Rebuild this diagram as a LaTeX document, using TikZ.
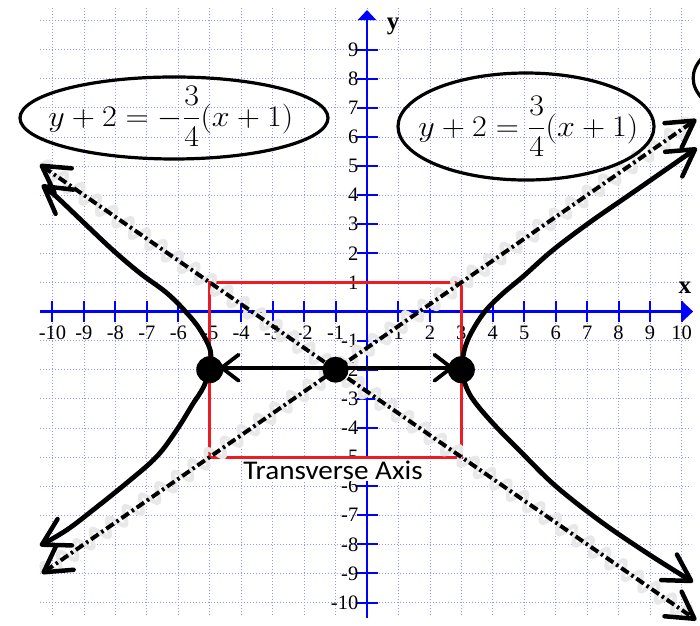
\documentclass[tikz,border=0pt]{standalone}
\usepackage{graphicx}
\usepackage{fontspec}
\newfontfamily\tms{Liberation Serif}
\newfontfamily\carl[FakeStretch=1.08]{Carlito}
\usetikzlibrary{arrows.meta,decorations.pathmorphing}
\definecolor{gridblue}{RGB}{150,150,250}
\definecolor{axblue}{RGB}{0,0,255}
\definecolor{boxred}{RGB}{237,28,36}
\definecolor{halocol}{RGB}{232,232,232}
\newcommand{\eqsize}[1]{\scalebox{1.29}[1.2]{\fontsize{24.88}{26}\selectfont$\displaystyle #1$}}
\tikzset{
  hand/.tip={Straight Barb[length=26pt,width=30pt,line width=4.5pt,round]},
  smallhand/.tip={Straight Barb[length=17pt,width=26pt,line width=3.8pt,round]},
  gridline/.style={draw=gridblue, dash pattern=on 1pt off 2pt, line width=0.8pt},
  axisline/.style={draw=axblue, line width=2.6pt},
  tickmark/.style={draw=axblue, line width=2pt},
  ticklab/.style={font=\tms\fontsize{20.5}{20.5}\selectfont, inner sep=0pt},
  axlab/.style={font=\tms\bfseries\fontsize{25}{25}\selectfont, inner sep=0pt},
  redbox/.style={draw=boxred, line width=3pt},
  halo/.style={draw=halocol, line width=4.5pt, line join=round, decorate, decoration={snake, amplitude=8pt, segment length=20pt}},
  asym/.style={line width=4pt, dash pattern=on 9pt off 3.5pt on 2.5pt off 3.5pt, hand-hand},
  hyp/.style={line width=4.8pt, line cap=round, line join=round, -hand},
  trans/.style={line width=3.8pt, smallhand-smallhand},
  dotfill/.style={fill=black},
  translab/.style={font=\carl\fontsize{27}{27}\selectfont, fill=white, inner sep=1.5pt, anchor=base},
  ring/.style={draw=black, line width=3.2pt},
  eqtext/.style={inner sep=0pt, anchor=base}
}
\begin{document}
\begin{tikzpicture}[x=31.45pt,y=29.1pt]
\useasboundingbox (-367pt,-313.5pt) rectangle (333pt,311.5pt);
\clip (-367pt,-313.5pt) rectangle (333pt,311.5pt);
\fill[white] (-367pt,-313.5pt) rectangle (333pt,311.5pt);
% grid
\foreach \i in {-10,...,10}{
  \draw[gridline] (\i,-10.43) -- (\i,10.43);
  \draw[gridline] (-10.4,\i) -- (10.3,\i);
}
% axes
\coordinate (xL) at (-10.4,0);
\coordinate (xR) at (10.37,0);
\coordinate (yB) at (0,-10.53);
\coordinate (yT) at (0,10.36);
\draw[axisline,-{Triangle[length=11pt,width=20pt]}] (xL) -- (xR);
\draw[axisline,-{Triangle[length=10pt,width=18pt]}] (yB) -- (yT);
\foreach \i in {-10,...,10}{
  \ifnum\i=0\relax\else
    \draw[tickmark] (\i,0) ++(0,11pt) -- ++(0,-21pt);
    \node[ticklab, yshift=-21.5pt] (xl\i) at (\i,0) {\i};
  \fi
}
\foreach \i in {-10,...,9}{
  \ifnum\i=0\relax\else
    \draw[tickmark] (0,\i) ++(-10.5pt,0) -- ++(21pt,0);
    \node[ticklab, anchor=east, xshift=-8.5pt] (yl\i) at (0,\i) {\i};
  \fi
}
\node[axlab] (xname) at (10.11,0.82) {x};
\node[axlab] (yname) at (0.83,9.81) {y};
% label
\node[translab] (tlab) at (-1.08,-5.766) {Transverse Axis};
% box
\draw[redbox] (-5,-5) rectangle (3,1);
% asymptotes
\coordinate (A1) at (-10.34,-9.005);
\coordinate (A2) at (10.47,6.6025);
\coordinate (B1) at (-10.4,5.05);
\coordinate (B2) at (10.47,-10.6025);
\draw[halo] (A1) -- (A2);
\draw[halo] (B1) -- (B2);
\draw[asym] (A1) -- (A2);
\draw[asym] (B1) -- (B2);
% hyperbola
\draw[hyp] plot[smooth, tension=0.6] coordinates {(-5,-2) (-4.98,-1.35) (-5.3,-0.64) (-5.73,-0.05) (-6.37,0.64) (-7.22,1.32) (-8.08,2.11) (-9.1,3.15) (-9.87,3.94) (-10.34,4.35)};
\draw[hyp] plot[smooth, tension=0.6] coordinates {(-5,-2) (-5.2,-2.6) (-5.55,-3.2) (-6.05,-4.07) (-6.69,-4.99) (-7.64,-5.89) (-8.71,-6.82) (-9.55,-7.51) (-10.4,-8.05)};
\draw[hyp] plot[smooth, tension=0.6] coordinates {(3,-2) (3.1,-1.3) (3.33,-0.7) (3.75,0) (4.3,0.6) (4.96,1.2) (5.91,2.11) (7.09,3.07) (8.36,4.02) (9.48,4.86) (10.49,5.62)};
\draw[hyp] plot[smooth, tension=0.6] coordinates {(3,-2) (3.12,-2.5) (3.38,-3.04) (4.01,-3.85) (4.96,-4.9) (6.0,-6.0) (7.41,-7.2) (8.9,-8.3) (10.37,-9.3)};
% vertices and centre
\coordinate (V1) at (-5,-2);
\coordinate (C) at (-1,-2);
\coordinate (V2) at (3,-2);
\draw[trans] ([xshift=10pt,yshift=2pt]V1) -- ([xshift=-8pt,yshift=2pt]V2);
\fill[dotfill] (V1) circle (13.5pt);
\fill[dotfill] (C) circle (13pt);
\fill[dotfill] (V2) circle (13.5pt);
% equations
\draw[ring] (-6.137,6.65) ellipse [x radius=154pt, y radius=41pt];
\draw[ring] (5.056,6.357) ellipse [x radius=128pt, y radius=53.5pt];
\draw[ring] (14.44,8.02) ellipse [x radius=128pt, y radius=55pt];
\node[eqtext] (eqL) at (-6.24,6.37) {\eqsize{y+2=-\frac{3}{4}(x+1)}};
\node[eqtext] (eqR) at (5.13,6.03) {\eqsize{y+2=\frac{3}{4}(x+1)}};
\end{tikzpicture}
\end{document}
